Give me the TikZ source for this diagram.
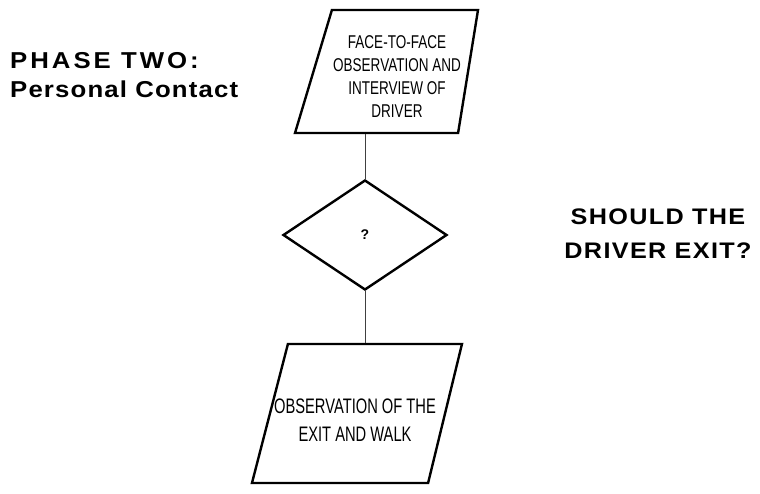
\documentclass[tikz,border=0pt]{standalone}
\usepackage{fontspec}
\setmainfont{Liberation Sans}
\newfontfamily\boxfont[FakeStretch=0.73]{Liberation Sans}
\newfontfamily\headfont[FakeStretch=1.12,LetterSpace=6]{Liberation Sans}
\usetikzlibrary{shapes.geometric,positioning}

\tikzstyle{link} = [black!75, line width=0.9pt]
\tikzset{
  basic box/.style = {
    draw,
    line width = 2.4pt,
    align = center,
    inner sep = 0pt,
    },
  data box/.style n args = {3}{
    basic box,
    trapezium,
    trapezium stretches body = true,
    trapezium left angle = #1,
    trapezium right angle = #2,
    inner ysep = #3,
    },
  box text/.style = {
    align = center,
    inner sep = 0pt,
    },
  decision/.style = {
    basic box,
    diamond,
    font = \bfseries\fontsize{14}{16}\selectfont,
    },
  heading/.style = {
    font = \headfont\bfseries\fontsize{#1}{#1}\selectfont,
    inner sep = 0pt,
    }
}

\begin{document}
\begin{tikzpicture}[x=1pt,y=-1pt]
    \useasboundingbox (0,0) rectangle (760,493);

    % flow
    \node[data box={73.3}{99.2}{61.5pt}, minimum width=183pt,
          label={[box text, xshift=2pt, yshift=-5pt,
                  font=\boxfont\fontsize{18.5}{23}\selectfont]center:%
          {FACE-TO-FACE\\OBSERVATION AND\\INTERVIEW OF\\DRIVER}}] (face) at (395,71.5) {};
    \node[decision, minimum width=164pt, minimum height=110pt] (exit) at (365,235) {?};
    \node[data box={75.5}{103.7}{69.5pt}, minimum width=210pt,
          label={[box text, xshift=-3pt, yshift=-6.5pt,
                  font=\boxfont\addfontfeatures{FakeStretch=0.7}\fontsize{21}{28}\selectfont]center:%
          {OBSERVATION OF THE\\EXIT AND WALK}}] (walk) at (358,413.5) {};

    % headings
    \node[heading=23, align=left, anchor=base west] (phase) at (10,97)
          {{\addfontfeatures{LetterSpace=13}PHASE TWO:}\\[6pt]%
           {\addfontfeatures{LetterSpace=5}Personal Contact}};
    \node[heading=22.5, align=center, anchor=base] (ask) at (658,258)
          {SHOULD THE\\[11pt]DRIVER EXIT?};

    % links
    \draw[link] (exit.north) -- (exit.north |- face.bottom side);
    \draw[link] (exit.south) -- (exit.south |- walk.top side);

\end{tikzpicture}
\end{document}
